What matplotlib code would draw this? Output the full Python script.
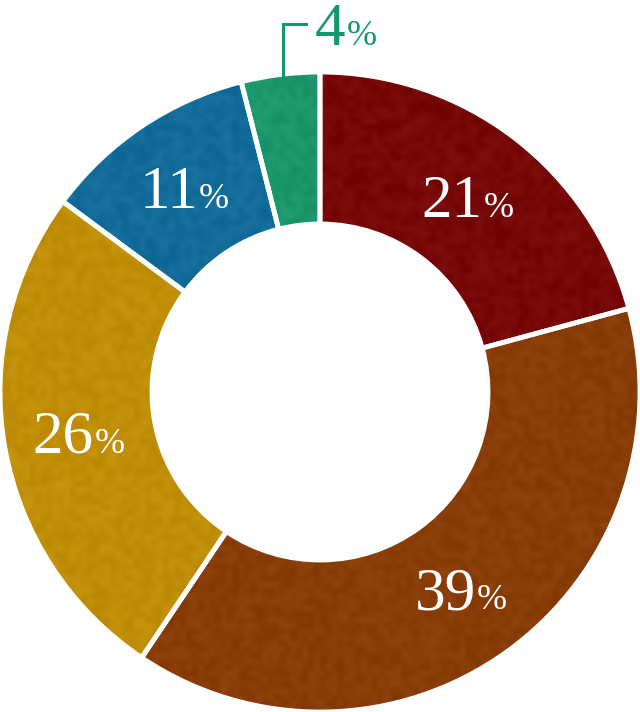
import numpy as np
import matplotlib.pyplot as plt

labels = ["21", "39", "26", "11", "4"]
values = [21, 39, 26, 11, 4]
colors = ["#760000", "#893800", "#c48f00", "#0b6a9b", "#159869"]

fig = plt.figure(figsize=(6.4, 7.12), dpi=100)
ax = fig.add_axes([0, 0, 1, 1])

cx, cy, R, w = 320, 320, 320, 152
wedges, _ = ax.pie(values, colors=colors, startangle=90, counterclock=False,
                   center=(cx, cy), radius=R, frame=True,
                   wedgeprops=dict(width=w, linewidth=0))
ax.set_xlim(0, 640)
ax.set_ylim(0, 712)
ax.set_aspect("equal")
ax.axis("off")

# faint mottled texture on the wedges
rng = np.random.default_rng(3)
noise = rng.random((120, 110))
noise = np.kron(noise, np.ones((6, 6)))
k = np.ones(7) / 7
noise = np.apply_along_axis(lambda r: np.convolve(r, k, mode="same"), 0, noise)
noise = np.apply_along_axis(lambda r: np.convolve(r, k, mode="same"), 1, noise)
for wd in wedges:
    im = ax.imshow(noise, cmap="gray", extent=(0, 640, 0, 712), alpha=0.06,
                   zorder=wd.get_zorder() + 0.1, interpolation="bilinear")
    im.set_clip_path(wd)

# white separators on top
ax.pie(values, colors=["none"] * len(values), startangle=90, counterclock=False,
       center=(cx, cy), radius=R, frame=True,
       wedgeprops=dict(width=w, edgecolor="white", linewidth=3.5, zorder=3))
ax.set_xlim(0, 640)
ax.set_ylim(0, 712)
ax.axis("off")

font = "Liberation Serif"
tot = sum(values)
start = 90.0
for lab, v in zip(labels, values):
    mid = np.deg2rad(start - v / tot * 360 / 2)
    start -= v / tot * 360
    if v < 8:
        continue
    r = R - w / 2
    x = cx + r * np.cos(mid)
    y = cy + r * np.sin(mid) - 19
    ax.text(x + 14, y, lab, color="white", fontsize=44, family=font,
            ha="right", va="baseline", zorder=5)
    ax.text(x + 15, y, "%", color="white", fontsize=26, family=font,
            ha="left", va="baseline", zorder=5)

# small slice label outside with leader line
ax.plot([283, 283, 306], [632, 688, 688], color=colors[4], lw=2.2,
        solid_joinstyle="miter", zorder=5)
ax.text(345, 667, labels[4], color=colors[4], fontsize=44, family=font,
        ha="right", va="baseline")
ax.text(347, 667, "%", color=colors[4], fontsize=26, family=font,
        ha="left", va="baseline")

fig.savefig("out.png", dpi=100)
